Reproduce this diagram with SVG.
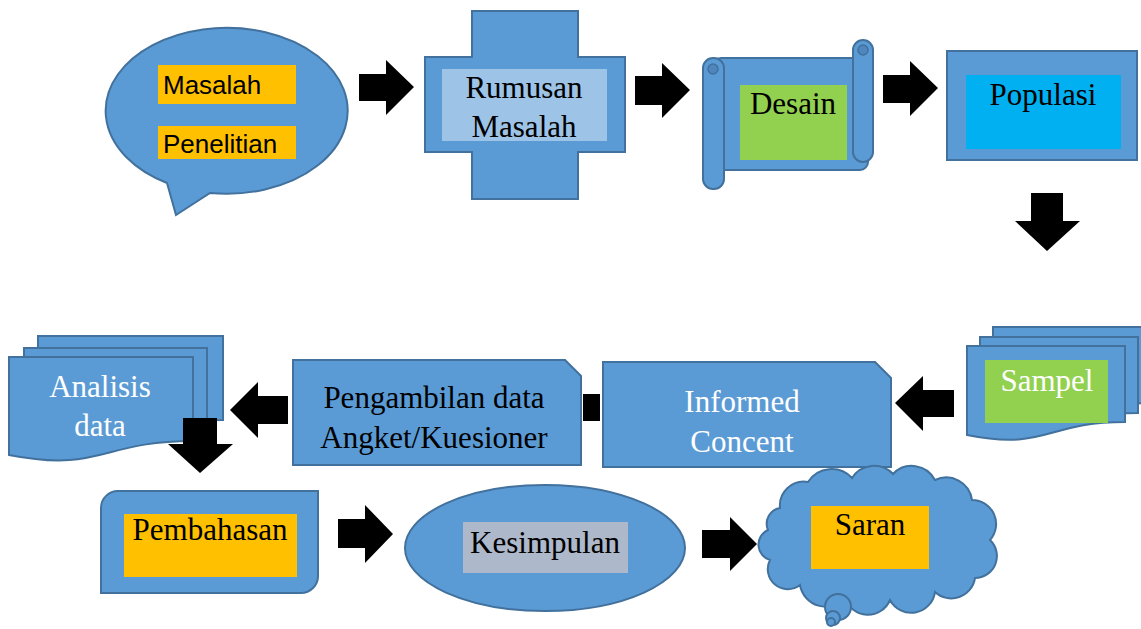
<svg xmlns="http://www.w3.org/2000/svg" width="1141" height="629" viewBox="0 0 1141 629">
<style>
.sh{fill:#5B9BD5;stroke:#41719C;stroke-width:2}
.arr{fill:#000}
.t{font-family:"Liberation Serif","Times New Roman",serif;font-size:31px;text-anchor:middle;fill:#000}
.w{fill:#fff}
.s{font-family:"Liberation Sans",Arial,sans-serif;font-size:26px;fill:#000}
</style>
<rect width="1141" height="629" fill="#fff"/>
<g id="masalah-penelitian">
<path class="sh" d="M167,183 A121,83 0 1 1 210,193 L176,215 Z"/>
<rect x="158" y="65" width="138" height="39" fill="#FFC000"/>
<rect x="158" y="126" width="138" height="33" fill="#FFC000"/>
<text class="s" x="163" y="94">Masalah</text>
<text class="s" x="163" y="153">Penelitian</text>
</g>
<g id="rumusan-masalah">
<path class="sh" d="M472,11 H578 V57 H625 V152 H578 V199 H472 V152 H425 V57 H472 Z"/>
<rect x="442" y="69" width="165" height="72" fill="#9DC3E6"/>
<text class="t" x="524" y="98">Rumusan</text>
<text class="t" x="524" y="137">Masalah</text>
</g>
<g id="desain">
<rect class="sh" x="713" y="58" width="155" height="112" rx="8"/>
<rect class="sh" x="853" y="40" width="20" height="122" rx="10"/>
<circle cx="863" cy="50" r="5" fill="#4E86BD" stroke="#41719C" stroke-width="1.5"/>
<rect class="sh" x="703" y="58" width="21" height="131" rx="10"/>
<circle cx="713" cy="69" r="5" fill="#4E86BD" stroke="#41719C" stroke-width="1.5"/>
<rect x="740" y="85" width="107" height="75" fill="#92D050"/>
<text class="t" x="793" y="114">Desain</text>
</g>
<g id="populasi">
<rect class="sh" x="947" y="51" width="190" height="109"/>
<rect x="966" y="75" width="155" height="74" fill="#00B0F0"/>
<text class="t" x="1043" y="105">Populasi</text>
</g>
<g id="sampel">
<path class="sh" d="M993,327 H1151 V403 C1072,403 1072,432 993,416 Z"/>
<path class="sh" d="M980,337 H1138 V413 C1059,413 1059,442 980,426 Z"/>
<path class="sh" d="M967,346 H1125 V422 C1046,422 1046,451 967,435 Z"/>
<rect x="985" y="360" width="123" height="63" fill="#92D050"/>
<text class="t w" x="1047" y="391">Sampel</text>
</g>
<g id="informed-concent">
<path class="sh" d="M603,362 H875 L891,378 V467 H603 Z"/>
<text class="t w" x="742" y="412">Informed</text>
<text class="t w" x="742" y="452">Concent</text>
</g>
<g id="pengambilan-data">
<path class="sh" d="M293,360 H565 L581,376 V465 H293 Z"/>
<text class="t" x="434" y="408">Pengambilan data</text>
<text class="t" x="434" y="448">Angket/Kuesioner</text>
</g>
<g id="analisis-data">
<path class="sh" d="M38,336 H223 V420 C130,420 130,452 38,434 Z"/>
<path class="sh" d="M24,348 H207 V431 C115,431 115,463 24,445 Z"/>
<path class="sh" d="M9,357 H193 V441 C101,441 101,473 9,455 Z"/>
<text class="t w" x="100" y="397">Analisis</text>
<text class="t w" x="100" y="436">data</text>
</g>
<g id="pembahasan">
<path class="sh" d="M119,491 H318 V576 A17,17 0 0 1 301,593 H101 V508 A17,17 0 0 1 119,491 Z"/>
<rect x="124" y="514" width="173" height="63" fill="#FFC000"/>
<text class="t" x="210" y="540">Pembahasan</text>
</g>
<g id="kesimpulan">
<ellipse class="sh" cx="545" cy="548" rx="140" ry="63"/>
<rect x="463" y="522" width="165" height="51" fill="#ADB9CA"/>
<text class="t" x="545" y="553">Kesimpulan</text>
</g>
<g id="saran">
<path class="sh" d="M780,508 A24,24 0 0 1 808,482 A28,28 0 0 1 852,478 A26,26 0 0 1 893,474 A26,26 0 0 1 935,480 A26,26 0 0 1 972,500 A24,24 0 0 1 990,540 A22,22 0 0 1 975,578 A24,24 0 0 1 935,592 A24,24 0 0 1 890,600 A24,24 0 0 1 845,598 A26,26 0 0 1 800,585 A20,20 0 0 1 770,560 A16,16 0 0 1 768,530 A16,16 0 0 1 780,508 Z"/>
<circle class="sh" cx="838" cy="607" r="13"/>
<circle class="sh" cx="833" cy="618" r="7"/>
<circle class="sh" cx="831" cy="622" r="4"/>
<rect x="811" y="506" width="118" height="63" fill="#FFC000"/>
<text class="t" x="870" y="535">Saran</text>
</g>
<g id="connectors">
<polygon class="arr" points="359,74 386,74 386,60 414,87 386,115 386,101 359,101"/>
<polygon class="arr" points="635,76 662,76 662,63 690,90 662,118 662,105 635,105"/>
<polygon class="arr" points="883,75 910,75 910,61 938,88 910,116 910,103 883,103"/>
<polygon class="arr" points="1031,193 1063,193 1063,221 1080,221 1047,251 1015,221 1031,221"/>
<polygon class="arr" points="954,390 923,390 923,376 895,403 923,431 923,417 954,417"/>
<rect class="arr" x="583" y="394" width="17" height="27"/>
<polygon class="arr" points="288,396 258,396 258,382 230,410 258,438 258,424 288,424"/>
<polygon class="arr" points="183,418 217,418 217,444 233,444 200,473 168,444 183,444"/>
<polygon class="arr" points="338,519 365,519 365,505 393,534 365,563 365,548 338,548"/>
<polygon class="arr" points="702,530 730,530 730,517 757,544 730,571 730,558 702,558"/>
</g>
</svg>
